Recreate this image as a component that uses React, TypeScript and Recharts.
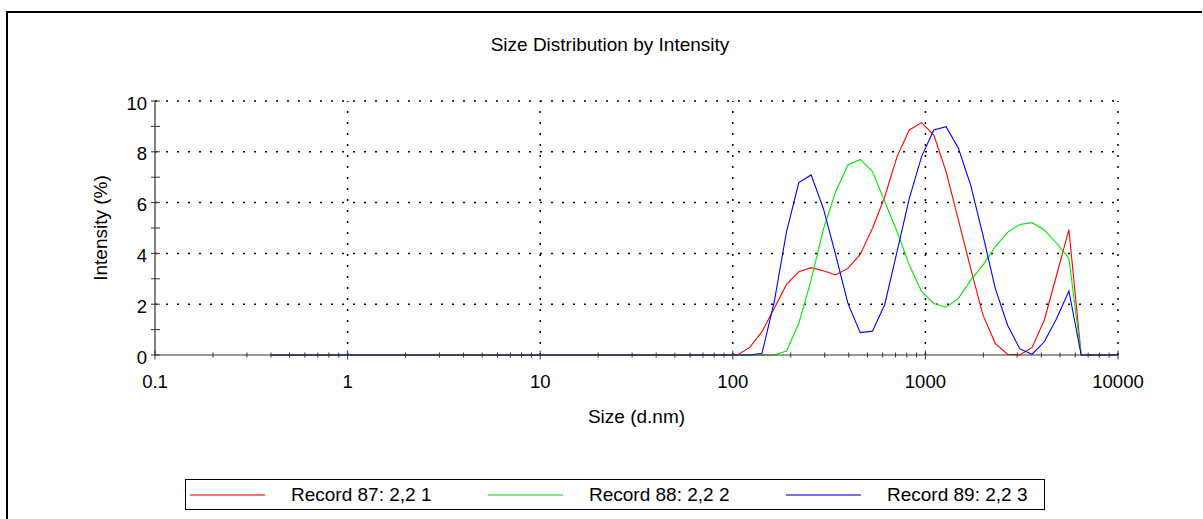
import { LineChart, Line, XAxis, YAxis, ReferenceLine, Label } from "recharts";

// Size bins (d.nm) reported by the instrument
const SIZES = [
  0.4, 0.4632, 0.5365, 0.6213, 0.7195, 0.8332, 0.9649, 1.117, 1.294, 1.499,
  1.736, 2.01, 2.328, 2.696, 3.122, 3.615, 4.187, 4.849, 5.615, 6.503,
  7.531, 8.721, 10.1, 11.7, 13.54, 15.69, 18.17, 21.04, 24.36, 28.21,
  32.67, 37.84, 43.82, 50.75, 58.77, 68.06, 78.82, 91.28, 105.7, 122.4,
  141.8, 164.2, 190.1, 220.2, 255.0, 295.3, 342.0, 396.1, 458.7, 531.2,
  615.1, 712.4, 825.0, 955.4, 1106, 1281, 1484, 1718, 1990, 2305,
  2669, 3091, 3580, 4145, 4801, 5560, 6439, 7456, 8635, 10000,
];

// Intensity (%) per bin
const REC_87 = [
  0, 0, 0, 0, 0, 0, 0, 0, 0, 0,
  0, 0, 0, 0, 0, 0, 0, 0, 0, 0,
  0, 0, 0, 0, 0, 0, 0, 0, 0, 0,
  0, 0, 0, 0, 0, 0, 0, 0, 0, 0.3,
  0.92, 1.84, 2.78, 3.28, 3.44, 3.32, 3.15, 3.41, 3.96, 4.99,
  6.23, 7.81, 8.86, 9.15, 8.66, 7.22, 5.31, 3.41, 1.57, 0.46,
  0.03, 0, 0.3, 1.38, 3.15, 4.94, 0, 0, 0, 0,
];

const REC_88 = [
  0, 0, 0, 0, 0, 0, 0, 0, 0, 0,
  0, 0, 0, 0, 0, 0, 0, 0, 0, 0,
  0, 0, 0, 0, 0, 0, 0, 0, 0, 0,
  0, 0, 0, 0, 0, 0, 0, 0, 0, 0,
  0, 0, 0.16, 1.25, 2.95, 4.95, 6.43, 7.48, 7.7, 7.22,
  6.04, 4.86, 3.54, 2.49, 2.03, 1.88, 2.23, 2.95, 3.54, 4.26,
  4.83, 5.14, 5.21, 4.92, 4.4, 3.81, 0, 0, 0, 0,
];

const REC_89 = [
  0, 0, 0, 0, 0, 0, 0, 0, 0, 0,
  0, 0, 0, 0, 0, 0, 0, 0, 0, 0,
  0, 0, 0, 0, 0, 0, 0, 0, 0, 0,
  0, 0, 0, 0, 0, 0, 0, 0, 0, 0,
  0.07, 2.1, 4.86, 6.79, 7.09, 5.77, 3.94, 2.03, 0.88, 0.94,
  1.99, 4.07, 6.17, 7.81, 8.86, 8.99, 8.14, 6.69, 4.72, 2.62,
  1.18, 0.24, 0.03, 0.52, 1.44, 2.52, 0, 0, 0, 0,
];

const SERIES = [
  { key: "r87", name: "Record 87: 2,2 1", color: "#ff0000" },
  { key: "r88", name: "Record 88: 2,2 2", color: "#00e600" },
  { key: "r89", name: "Record 89: 2,2 3", color: "#0000ff" },
];

const X_MAJOR = [0.1, 1, 10, 100, 1000, 10000];
const X_MINOR_STEPS = [2, 3, 4, 5, 6, 7, 8, 9];
const Y_TICKS = [0, 1, 2, 3, 4, 5, 6, 7, 8, 9, 10];
const Y_GRID = [2, 4, 6, 8, 10];

const FONT = "'Liberation Sans', Arial, sans-serif";

const data = SIZES.map((size, i) => ({
  size,
  r87: REC_87[i],
  r88: REC_88[i],
  r89: REC_89[i],
}));

const xTicks = [
  ...X_MAJOR,
  ...X_MAJOR.slice(0, -1).flatMap((d) => X_MINOR_STEPS.map((s) => d * s)),
].sort((a, b) => a - b);

const isMajorX = (v: number) => X_MAJOR.some((m) => Math.abs(v - m) / m < 1e-6);

const XTick = ({ x, y, payload }: any) => {
  const major = isMajorX(payload.value);
  const h = major ? 4.5 : 2.5;
  return (
    <g>
      <line x1={x} x2={x} y1={y - h} y2={y + h} stroke="#333" strokeWidth={1} />
      {major && (
        <text x={x} y={y + 33} textAnchor="middle" fontSize={18.5} fontFamily={FONT} fill="#000">
          {String(payload.value)}
        </text>
      )}
    </g>
  );
};

const YTick = ({ x, y, payload }: any) => {
  const major = payload.value % 2 === 0;
  return (
    <g>
      <line x1={x - 4} x2={x + 5} y1={y} y2={y} stroke="#333" strokeWidth={1} />
      {major && (
        <text x={x - 8} y={y + 8.5} textAnchor="end" fontSize={18.5} fontFamily={FONT} fill="#000">
          {payload.value}
        </text>
      )}
    </g>
  );
};

const YTitle = ({ viewBox }: any) => {
  const cx = viewBox.x + 12;
  const cy = viewBox.y + viewBox.height / 2;
  return (
    <text
      x={cx}
      y={cy}
      transform={`rotate(-90 ${cx} ${cy})`}
      textAnchor="middle"
      fontSize={19}
      fontFamily={FONT}
      fill="#000"
    >
      Intensity (%)
    </text>
  );
};

export default function App() {
  return (
    <div style={{ position: "absolute", left: 0, top: 0, width: 1203, height: 519, overflow: "hidden", background: "#fff", fontFamily: FONT }}>
      {/* outer frame */}
      <div style={{ position: "absolute", left: 6, top: 11, width: 1194, height: 600, borderTop: "2px solid #000", borderLeft: "2px solid #000" }} />

      <div style={{ position: "absolute", left: 410, top: 34, width: 400, textAlign: "center", fontSize: 19, lineHeight: "22px", color: "#000" }}>
        Size Distribution by Intensity
      </div>

      <div style={{ position: "absolute", left: 0, top: 0 }}>
        <LineChart width={1203} height={519} data={data} margin={{ top: 101, right: 85, bottom: 104, left: 95 }}>
          {X_MAJOR.slice(1).map((v) => (
            <ReferenceLine key={`gx-${v}`} x={v} stroke="#000" strokeWidth={1.5} strokeDasharray="2 9" />
          ))}
          {Y_GRID.map((v) => (
            <ReferenceLine key={`gy-${v}`} y={v} stroke="#000" strokeWidth={1.5} strokeDasharray="2 9" />
          ))}
          <XAxis
            dataKey="size"
            type="number"
            scale="log"
            domain={[0.1, 10000]}
            ticks={xTicks}
            interval={0}
            height={60}
            tickLine={false}
            tickSize={0}
            tickMargin={0}
            tick={<XTick />}
            axisLine={{ stroke: "#333", strokeWidth: 1.2 }}
            allowDataOverflow
          >
            <Label value="Size (d.nm)" position="bottom" offset={-5.5} fontSize={19} fontFamily={FONT} fill="#000" />
          </XAxis>
          <YAxis
            type="number"
            domain={[0, 10]}
            ticks={Y_TICKS}
            interval={0}
            width={60}
            tickLine={false}
            tickSize={0}
            tickMargin={0}
            tick={<YTick />}
            axisLine={{ stroke: "#333", strokeWidth: 1.2 }}
          >
            <Label content={<YTitle />} />
          </YAxis>
          {SERIES.map((s) => (
            <Line
              key={s.key}
              dataKey={s.key}
              name={s.name}
              type="linear"
              stroke={s.color}
              strokeWidth={1.1}
              dot={false}
              activeDot={false}
              isAnimationActive={false}
            />
          ))}
        </LineChart>
      </div>

      {/* legend */}
      <div style={{ position: "absolute", left: 185, top: 479, width: 860, height: 31, border: "1.5px solid #000", boxSizing: "border-box" }}>
        {SERIES.map((s, i) => (
          <div key={s.key} style={{ position: "absolute", left: 4 + i * 298, top: 0, height: "100%", display: "flex", alignItems: "center" }}>
            <span style={{ display: "inline-block", width: 75, height: 2, background: s.color, opacity: 0.55 }} />
            <span style={{ marginLeft: 26, fontSize: 19, color: "#000", whiteSpace: "nowrap" }}>{s.name}</span>
          </div>
        ))}
      </div>
    </div>
  );
}
